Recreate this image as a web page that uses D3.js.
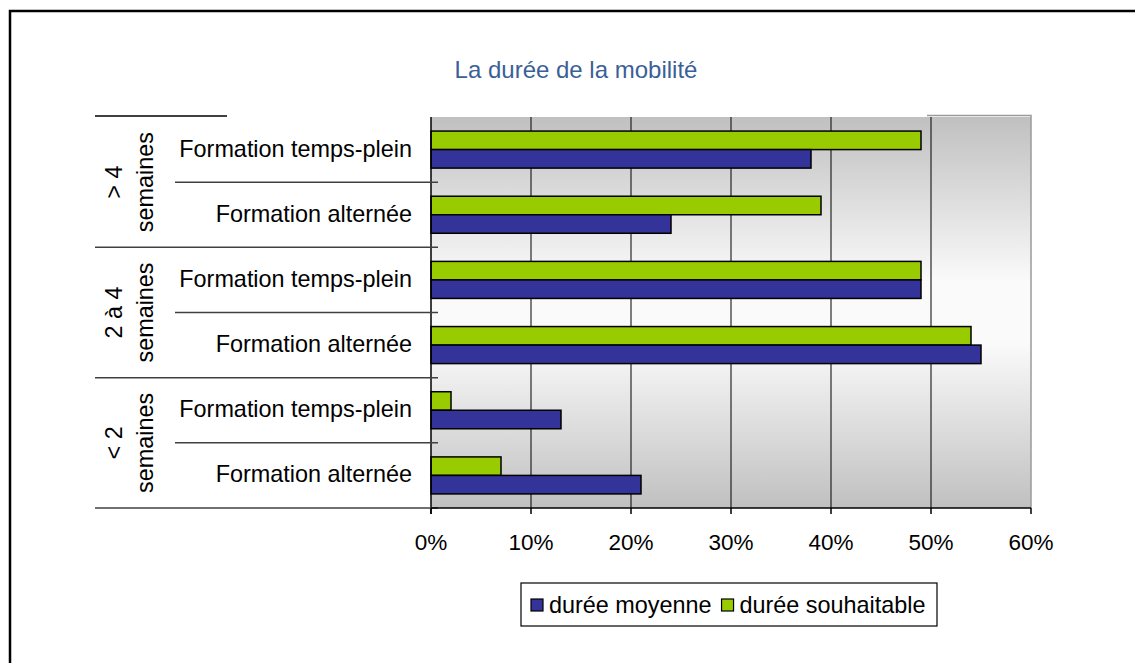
<!DOCTYPE html>
<html>
<head>
<meta charset="utf-8">
<script src="https://cdn.jsdelivr.net/npm/d3@7"></script>
<style>
  body { margin: 0; background: #fff; }
  text { font-family: "Liberation Sans", Arial, sans-serif; fill: #000; }
</style>
</head>
<body>
<script>
// data
const groups = ["> 4|semaines", "2 à 4|semaines", "< 2|semaines"];
const categories = ["Formation temps-plein", "Formation alternée"];
const moyenne = [38, 24, 49, 55, 13, 21];      // durée moyenne (%)
const souhaitable = [49, 39, 49, 54, 2, 7];    // durée souhaitable (%)
const ticks = [0, 10, 20, 30, 40, 50, 60];
const seriesNames = ["durée moyenne", "durée souhaitable"];
const colors = ["#333399", "#99cc00"];

const w = 1135, h = 663;
const pLeft = 431, pRight = 1031, pTop = 117, pBottom = 508;

// one row per bar pair
let rows = [];
groups.forEach((g, gi) => {
  categories.forEach((c, ci) => {
    let i = gi * 2 + ci;
    rows.push({ id: i, group: g, cat: c, moy: moyenne[i], sou: souhaitable[i] });
  });
});

const svg = d3.select("body").append("svg")
  .attr("width", w).attr("height", h);

// outer frame
svg.append("rect")
  .attr("x", 10).attr("y", 11).attr("width", w + 10).attr("height", h + 10)
  .attr("fill", "none").attr("stroke", "#000").attr("stroke-width", 2.5);

const x = d3.scaleLinear().domain([0, 60]).range([pLeft, pRight]);
const y = d3.scaleBand().domain(rows.map(d => d.id)).range([pTop, pBottom]);
const y1 = d3.scaleBand().domain(["sou", "moy"]).range([0, y.bandwidth()]).paddingOuter(0.76);

// plot area gradient
const grad = svg.append("defs").append("linearGradient")
  .attr("id", "bg").attr("x1", 0).attr("y1", 0).attr("x2", 0).attr("y2", 1);
grad.append("stop").attr("offset", "0%").attr("stop-color", "#c0c0c0");
grad.append("stop").attr("offset", "42%").attr("stop-color", "#fafafa");
grad.append("stop").attr("offset", "58%").attr("stop-color", "#fafafa");
grad.append("stop").attr("offset", "100%").attr("stop-color", "#c0c0c0");

svg.append("rect")
  .attr("x", pLeft).attr("y", pTop)
  .attr("width", pRight - pLeft).attr("height", pBottom - pTop)
  .attr("fill", "url(#bg)");

// right border of plot area
svg.append("path")
  .attr("d", `M${x(49.6)},${pTop - 1.5}H${pRight}V${pBottom}`)
  .attr("fill", "none").attr("stroke", "#9a9a9a").attr("stroke-width", 1.5);

// vertical gridlines
svg.selectAll(".grid")
  .data(ticks.slice(1, -1))
  .enter().append("line")
  .attr("x1", d => x(d)).attr("x2", d => x(d))
  .attr("y1", pTop).attr("y2", pBottom)
  .attr("stroke", "#000").attr("stroke-width", 1);

// bars
const bar = svg.selectAll(".row")
  .data(rows)
  .enter().append("g")
  .attr("transform", d => `translate(0,${y(d.id)})`);

bar.append("rect")
  .attr("x", x(0)).attr("y", y1("sou"))
  .attr("width", d => x(d.sou) - x(0)).attr("height", y1.bandwidth())
  .attr("fill", colors[1]).attr("stroke", "#000").attr("stroke-width", 1.5);

bar.append("rect")
  .attr("x", x(0)).attr("y", y1("moy"))
  .attr("width", d => x(d.moy) - x(0)).attr("height", y1.bandwidth())
  .attr("fill", colors[0]).attr("stroke", "#000").attr("stroke-width", 1.5);

// category labels
svg.selectAll(".cat")
  .data(rows)
  .enter().append("text")
  .attr("x", 412)
  .attr("y", d => y(d.id) + y.bandwidth() / 2 + 7)
  .attr("text-anchor", "end")
  .style("font-size", "23.4px")
  .text(d => d.cat);

// left axis line
svg.append("line")
  .attr("x1", pLeft).attr("x2", pLeft).attr("y1", pTop).attr("y2", pBottom + 6)
  .attr("stroke", "#000").attr("stroke-width", 1.5);

// separators of the hierarchical axis
svg.selectAll(".sep")
  .data(rows)
  .enter().append("line")
  .attr("x1", d => d.id % 2 == 0 ? 175 : 95)
  .attr("x2", 438)
  .attr("y1", d => y(d.id) + y.bandwidth())
  .attr("y2", d => y(d.id) + y.bandwidth())
  .attr("stroke", "#404040").attr("stroke-width", 1.5);

svg.append("line")
  .attr("x1", 95).attr("x2", 227).attr("y1", pTop - 1).attr("y2", pTop - 1)
  .attr("stroke", "#000").attr("stroke-width", 1.5);

// group labels, rotated
groups.forEach((g, gi) => {
  let cy = y(gi * 2 + 1);
  let parts = g.split("|");
  parts.forEach((p, pi) => {
    svg.append("text")
      .attr("transform", `translate(${114 + pi * 31},${cy}) rotate(-90)`)
      .attr("text-anchor", "middle")
      .attr("dy", "0.35em")
      .style("font-size", "23.4px")
      .text(p);
  });
});

// bottom axis
svg.append("line")
  .attr("x1", pLeft).attr("x2", pRight).attr("y1", pBottom).attr("y2", pBottom)
  .attr("stroke", "#000").attr("stroke-width", 1.5);

svg.selectAll(".tick")
  .data(ticks)
  .enter().append("line")
  .attr("x1", d => x(d)).attr("x2", d => x(d))
  .attr("y1", pBottom).attr("y2", pBottom + 6)
  .attr("stroke", "#000").attr("stroke-width", 1.5);

svg.selectAll(".ticklabel")
  .data(ticks)
  .enter().append("text")
  .attr("x", d => x(d)).attr("y", 550)
  .attr("text-anchor", "middle")
  .style("font-size", "22.5px")
  .text(d => d + "%");

// title
svg.append("text")
  .attr("x", 576).attr("y", 78)
  .attr("text-anchor", "middle")
  .style("font-size", "24px")
  .style("fill", "#3b5f97")
  .text("La durée de la mobilité");

// legend
const legend = svg.append("g");
legend.append("rect")
  .attr("x", 521).attr("y", 583).attr("width", 416).attr("height", 43)
  .attr("fill", "#fff").attr("stroke", "#000").attr("stroke-width", 1.2);

let lx = 531;
seriesNames.forEach((s, i) => {
  legend.append("rect")
    .attr("x", lx).attr("y", 599).attr("width", 12).attr("height", 12)
    .attr("fill", colors[i]).attr("stroke", "#000").attr("stroke-width", 1.2);
  let t = legend.append("text")
    .attr("x", lx + 18).attr("y", 613)
    .style("font-size", "23.4px")
    .text(s);
  lx += 18 + t.node().getComputedTextLength() + 10;
});
</script>
</body>
</html>
